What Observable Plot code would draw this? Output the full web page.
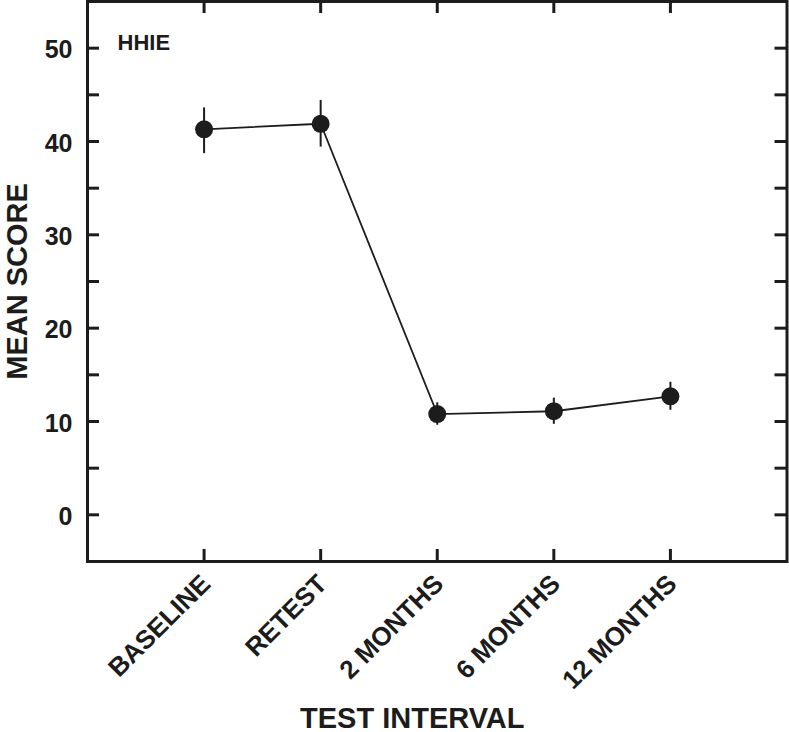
<!DOCTYPE html>
<html>
<head>
<meta charset="utf-8">
<script src="https://cdn.jsdelivr.net/npm/d3@7"></script>
<script src="https://cdn.jsdelivr.net/npm/@observablehq/plot@0.6"></script>
<style>
  html, body { margin: 0; padding: 0; background: #fff; }
  svg { display: block; }
</style>
</head>
<body>
<div id="chart"></div>
<script>
// ---- data ----
const categories = ["BASELINE", "RETEST", "2 MONTHS", "6 MONTHS", "12 MONTHS"];
const means   = [41.3, 41.9, 10.8, 11.1, 12.7];
const errLow  = [38.7, 39.4, 9.6, 9.7, 11.2];
const errHigh = [43.6, 44.4, 12.0, 12.5, 14.2];
const yTickValues = [0, 5, 10, 15, 20, 25, 30, 35, 40, 45, 50];
const yTickLabels = [0, 10, 20, 30, 40, 50];
const panelLabel = "HHIE";
const xTitle = "TEST INTERVAL";
const yTitle = "MEAN SCORE";

const data = categories.map((c, i) => ({
  cat: c, pos: i + 1, mean: means[i], lo: errLow[i], hi: errHigh[i]
}));

// ---- layout ----
const W = 789, H = 732;
const mL = 87, mR = 2.5, mT = 1, mB = 171;
const plotW = W - mL - mR, plotH = H - mT - mB;
const ink = "#1c1c1c";
const font = "'Liberation Sans', Arial, Helvetica, sans-serif";
const tickLen = 12;

const chart = Plot.plot({
  width: W,
  height: H,
  marginLeft: mL,
  marginRight: mR,
  marginTop: mT,
  marginBottom: mB,
  style: { fontFamily: font, color: ink, background: "#fff", overflow: "visible" },
  x: { domain: [0, 6], axis: null },
  y: { domain: [-5, 55], axis: null },
  marks: [
    // inward ticks: left, right, top, bottom
    Plot.ruleY(yTickValues, { y: d => d, insetRight: plotW - tickLen, stroke: ink, strokeWidth: 3 }),
    Plot.ruleY(yTickValues, { y: d => d, insetLeft: plotW - tickLen, stroke: ink, strokeWidth: 3 }),
    Plot.ruleX(data, { x: "pos", insetBottom: plotH - tickLen, stroke: ink, strokeWidth: 3 }),
    Plot.ruleX(data, { x: "pos", insetTop: plotH - tickLen, stroke: ink, strokeWidth: 3 }),
    Plot.frame({ stroke: ink, strokeWidth: 3 }),
    // y tick labels
    Plot.text(yTickLabels, {
      y: d => d, text: d => String(d), frameAnchor: "left", textAnchor: "end",
      dx: -15, dy: 2, fontSize: 25, fontWeight: "bold", fill: ink
    }),
    // x tick labels (rotated)
    Plot.text(data, {
      x: "pos", text: "cat", frameAnchor: "bottom", textAnchor: "end", lineAnchor: "middle",
      rotate: -45, dx: 2, dy: 18, fontSize: 26, fontWeight: "bold", fill: ink
    }),
    // error bars
    Plot.ruleX(data, { x: "pos", y1: "lo", y2: "hi", stroke: ink, strokeWidth: 2 }),
    // connecting line
    Plot.line(data, { x: "pos", y: "mean", stroke: ink, strokeWidth: 1.8 }),
    // markers
    Plot.dot(data, { x: "pos", y: "mean", r: 9, fill: ink, stroke: "none" }),
    // panel label
    Plot.text([panelLabel], {
      text: d => d, frameAnchor: "top-left", textAnchor: "start", lineAnchor: "bottom",
      dx: 30, dy: 48, fontSize: 22, fontWeight: "bold", fill: ink
    }),
    // axis titles
    Plot.text([xTitle], {
      text: d => d, frameAnchor: "bottom", textAnchor: "middle", lineAnchor: "bottom",
      dx: -25, dy: 166, fontSize: 29, fontWeight: "bold", fill: ink
    }),
    Plot.text([yTitle], {
      text: d => d, frameAnchor: "left", textAnchor: "middle", lineAnchor: "bottom",
      rotate: -90, dx: -61, fontSize: 29, fontWeight: "bold", fill: ink
    })
  ]
});

document.getElementById("chart").appendChild(chart);
</script>
</body>
</html>
